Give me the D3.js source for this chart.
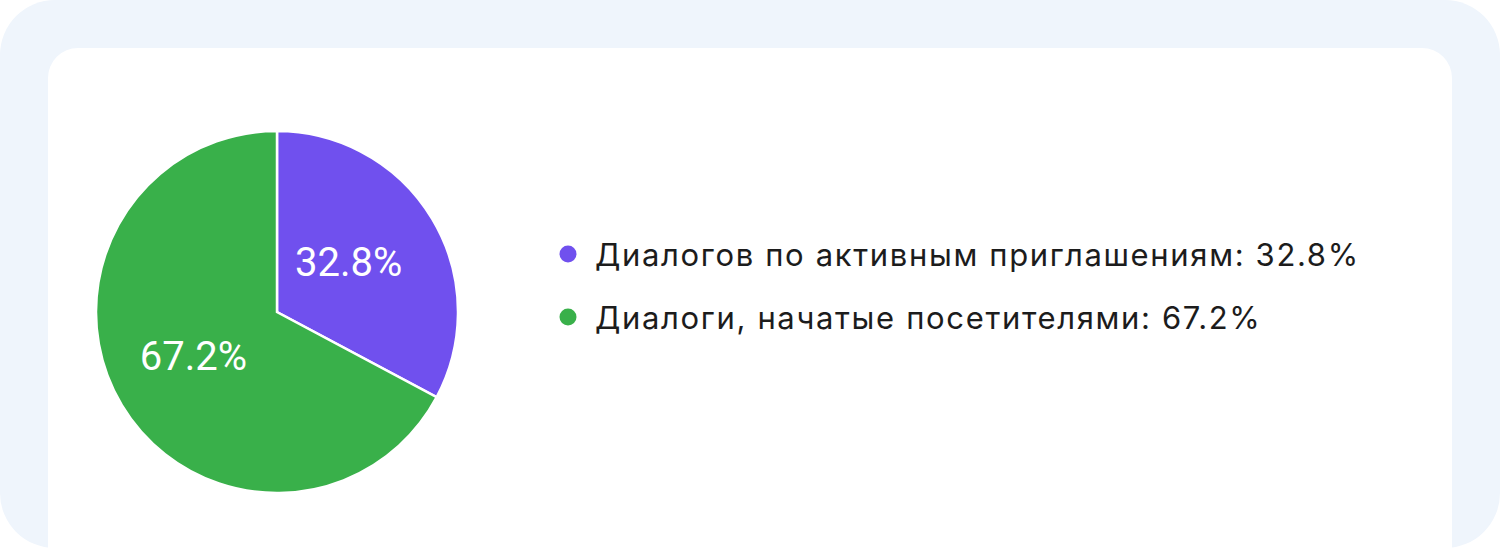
<!DOCTYPE html>
<html>
<head>
<meta charset="utf-8">
<script src="https://cdn.jsdelivr.net/npm/d3@7"></script>
<style>
  html, body { margin: 0; padding: 0; background: #fff; }
  svg { display: block; }
</style>
</head>
<body>
<div id="content"></div>
<script>
// data
var labels = ['Диалогов по активным приглашениям', 'Диалоги, начатые посетителями'];
var values = [32.8, 67.2];
var colors = ['#7050ee', '#39b04a'];

var width = 1500, height = 550;
var svg = d3.select('#content').append('svg')
    .attr('width', width)
    .attr('height', height);

// outer panel and card
svg.append('rect')
    .attr('x', 0).attr('y', 0)
    .attr('width', width).attr('height', 548)
    .attr('rx', 55).attr('ry', 55)
    .attr('fill', '#eff5fc');
svg.append('path')
    .attr('d', 'M48,548 V78 A30,30 0 0 1 78,48 H1422 A30,30 0 0 1 1452,78 V548 Z')
    .attr('fill', '#ffffff');

// pie
var cx = 277, cy = 312, radius = 181;
var pie = d3.pie().sort(null).value(function(d){ return d; });
var arc = d3.arc().innerRadius(0).outerRadius(radius);
var arcs = pie(values);

var g = svg.append('g').attr('transform', 'translate(' + cx + ',' + cy + ')');
g.selectAll('path.slice')
    .data(arcs)
    .enter().append('path')
    .attr('class', 'slice')
    .attr('d', arc)
    .attr('fill', function(d, i){ return colors[i]; })
    .attr('stroke', '#ffffff')
    .attr('stroke-width', 2.5);

g.selectAll('text.pct')
    .data(arcs)
    .enter().append('text')
    .attr('class', 'pct')
    .attr('transform', function(d){ var c = arc.centroid(d); return 'translate(' + (c[0] - 6) + ',' + (c[1] - 3) + ')'; })
    .attr('text-anchor', 'middle')
    .attr('dy', 14)
    .attr('fill', '#ffffff')
    .style('font-family', 'Roboto, sans-serif')
    .style('font-size', '40px')
    .text(function(d){ return d.data.toFixed(1) + '%'; });

// legend
var legend = svg.append('g').attr('transform', 'translate(568,254)');
var rows = legend.selectAll('g.row')
    .data(labels)
    .enter().append('g')
    .attr('class', 'row')
    .attr('transform', function(d, i){ return 'translate(0,' + (i * 63) + ')'; });
rows.append('circle')
    .attr('r', 8.5)
    .attr('fill', function(d, i){ return colors[i]; });
rows.append('text')
    .attr('x', 27)
    .attr('dy', 12)
    .attr('fill', '#1c1c1c')
    .style('font-family', 'Inter, sans-serif')
    .style('font-size', '31px')
    .style('letter-spacing', '1.65px')
    .text(function(d, i){ return d + ': ' + values[i].toFixed(1) + '%'; });
</script>
</body>
</html>
